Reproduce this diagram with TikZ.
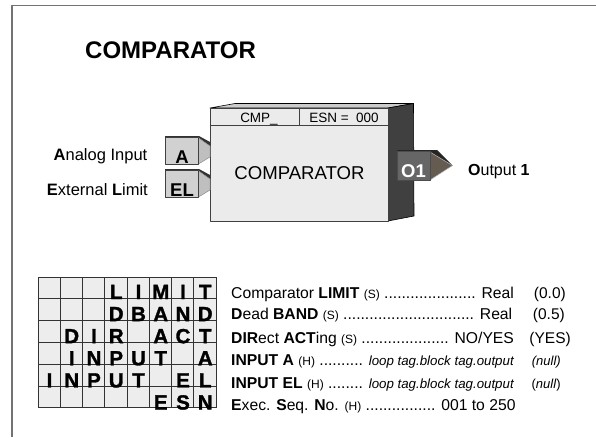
\documentclass[tikz,border=0pt]{standalone}
\usepackage{fontspec}
\setmainfont{Liberation Sans}
\newfontfamily\gridfont{Liberation Sans}[BoldFeatures={FakeBold=1.5}]
\definecolor{arrowbrown}{RGB}{102,91,80}
\begin{document}
\begin{tikzpicture}[x=1pt,y=-1pt,line join=round,
	blockface/.style={draw=black!75,line width=1pt,fill=black!8},
	pinface/.style={draw=black!75,line width=1pt,fill=black!18},
	pinside/.style={fill=black!25,draw=black!45,line width=.5pt},
	pinlabel/.style={font=\fontsize{18.5}{18}\bfseries\selectfont,inner sep=0pt,anchor=base},
	sidelabel/.style={font=\fontsize{16.5}{16}\selectfont,inner sep=0pt,anchor=base east},
	gridletter/.style={font=\gridfont\fontsize{20.5}{20}\bfseries\selectfont,inner sep=0pt,anchor=base},
	listrow/.style={font=\fontsize{15.7}{15}\selectfont,inner sep=0pt,anchor=base west},
	listval/.style={font=\fontsize{15.5}{15}\selectfont,inner sep=0pt,anchor=base east}]
	\newcommand{\smalltag}[1]{{\fontsize{12}{12}\selectfont #1}}
	\newcommand{\looptag}{{\fontsize{13.3}{13}\itshape\selectfont loop tag.block tag.output}}
	\useasboundingbox (0,0) rectangle (596,437);
	% page frame
	\draw[black!55,line width=1.2pt] (12,437) -- (12,5.5) -- (596,5.5);
	\node[font=\fontsize{24}{24}\bfseries\selectfont,inner sep=0pt,anchor=base west] (title) at (85,58.5) {COMPARATOR};
	% block
	\fill[black!20,draw=black,line width=.6pt] (210,108) -- (235,103.5) -- (413.5,103.5) -- (388,108) -- cycle;
	\fill[black!75,draw=black,line width=.6pt] (388,108) -- (413.5,103.5) -- (414,216) -- (388,221) -- cycle;
	\draw[blockface] (210,108) rectangle (388,221);
	\draw[black!75,line width=1pt] (210,125.5) -- (388,125.5) (299.5,108) -- (299.5,125.5);
	\node[font=\fontsize{13.5}{13}\selectfont,inner sep=0pt,anchor=base] (tag) at (259,122) {CMP\_};
	\node[font=\fontsize{13.5}{13}\selectfont,inner sep=0pt,anchor=base] (esn) at (344,122) {ESN =\ \ 000};
	\node[font=\fontsize{18.6}{18}\selectfont,inner sep=0pt,anchor=base] (name) at (299.5,179.5) {COMPARATOR};
	% input pins
	\foreach \y/\t in {137/A,170/EL}{
		\fill[black!80] (165,\y-1) -- (199,\y-1) -- (210,\y+5) -- (210,\y+9) -- (199,\y+1) -- (165,\y+1) -- cycle;
		\draw[pinside] (198.5,\y+1) -- (210,\y+9) -- (210,\y+20) -- (198.5,\y+27) -- cycle;
		\draw[pinface] (165,\y) rectangle (198.5,\y+27);
		\node[pinlabel] (pin\t) at (182,\y+26) {\t};
	}
	\node[sidelabel] (labA) at (147.5,160) {\textbf{A}nalog Input};
	\node[sidelabel] (labEL) at (148,195) {\textbf{E}xternal \textbf{L}imit};
	% output pin
	\fill[black!85] (397,151) -- (397,150) -- (437,150) -- (452.5,165.5) -- (430,152) -- cycle;
	\fill[arrowbrown,draw=black!30,line width=.5pt] (430,152) -- (452.5,165.5) -- (430,180) -- cycle;
	\draw[draw=black!70,fill=black!60,line width=1pt] (397,151) rectangle (430,180);
	\node[pinlabel,white] (pinO) at (413.5,177.7) {O1};
	\node[font=\fontsize{16}{16}\selectfont,inner sep=0pt,anchor=base west] (labO) at (468,175) {\textbf{O}utput \textbf{1}};
	% grid
	\fill[black!7] (38,277) rectangle (216,408);
	\foreach \i in {0,...,8}{
		\draw[black!80,line width=1pt] (38+\i*22.25,277) -- (38+\i*22.25,408);
	}
	\foreach \j in {0,...,6}{
		\draw[black!80,line width=1pt] (38,277+\j*21.83) -- (216,277+\j*21.83);
	}
	\foreach \c/\r/\t/\n in {3/0/L/a,4/0/I/b,5/0/M/c,6/0/I/d,7/0/T/e,
		3/1/D/f,4/1/B/g,5/1/A/h,6/1/N/i,7/1/D/j,
		1/2/D/k,2/2/I/l,3/2/R/m,5/2/A/n,6/2/C/o,7/2/T/p,
		1/3/I/q,2/3/N/r,3/3/P/s,4/3/U/t,5/3/T/u,7/3/A/v,
		0/4/I/w,1/4/N/x,2/4/P/y,3/4/U/z,4/4/T/aa,6/4/E/ab,7/4/L/ac,
		5/5/E/ad,6/5/S/ae,7/5/N/af}{
		\node[gridletter] (let\n) at (38+\c*22.25+11.5,299+\r*22.1) {\t};
	}
	% parameter list
	\node[listrow] (rowa) at (231,298) {Comparator \textbf{LIMIT} \smalltag{(S)} ..................... Real};
	\node[listrow] (rowb) at (231,319.5) {\textbf{D}ead \textbf{BAND} \smalltag{(S)} .............................. Real};
	\node[listrow] (rowc) at (231,343) {\textbf{DIR}ect \textbf{ACT}ing \smalltag{(S)} .................... NO/YES};
	\node[listrow] (rowd) at (231,365) {\textbf{INPUT A} \smalltag{(H)} .......... \looptag};
	\node[listrow] (rowe) at (231,388) {\textbf{INPUT EL} \smalltag{(H)} ........ \looptag};
	\node[listrow] (rowf) at (231,410) {\textbf{E}xec. \textbf{S}eq. \textbf{N}o. \smalltag{(H)} ................ 001 to 250};
	\node[listval] (vala) at (566,298) {(0.0)};
	\node[listval] (valb) at (565,319.5) {(0.5)};
	\node[listval] (valc) at (571,343) {(YES)};
	\node[listval,font=\fontsize{13}{13}\itshape\selectfont] (vald) at (561,365) {(null)};
	\node[listval,font=\fontsize{13}{13}\selectfont] (vale) at (561,388) {(\textit{null})};
\end{tikzpicture}
\end{document}
